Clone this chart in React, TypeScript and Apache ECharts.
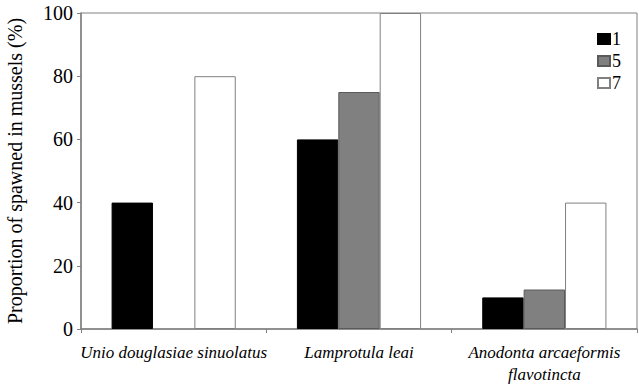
import React, { useEffect, useRef } from "react";
import * as echarts from "echarts";

const categories = ["Unio douglasiae sinuolatus", "Lamprotula leai", "Anodonta arcaeformis\nflavotincta"];
const seriesNames = ["1", "5", "7"];
const values1 = [40, 60, 10];
const values5 = [0, 75, 12.5];
const values7 = [80, 100, 40];
const yTicks = { min: 0, max: 100, interval: 20 };

const FONT = "Liberation Serif";

export default function App() {
  const ref = useRef<HTMLDivElement>(null);
  useEffect(() => {
    if (!ref.current) return;
    const chart = echarts.init(ref.current, undefined, { renderer: "svg" });
    const fills = ["#000000", "#808080", "#ffffff"];
    const borders = ["#000000", "#5a5a5a", "#808080"];
    const data = [values1, values5, values7];
    chart.setOption({
      animation: false,
      textStyle: { fontFamily: FONT },
      grid: {
        left: 81,
        right: 2,
        top: 13,
        bottom: 58,
        outerBoundsMode: "none",
        containLabel: false,
        show: true,
        borderColor: "#808080",
        borderWidth: 1,
      },
      legend: {
        orient: "vertical",
        right: 13,
        top: 25,
        itemWidth: 12,
        itemHeight: 10,
        itemGap: 4,
        icon: "rect",
        data: seriesNames,
        textStyle: { fontFamily: FONT, fontSize: 18, color: "#000", padding: [0, 0, 0, -3] },
      },
      xAxis: {
        type: "category",
        data: categories,
        axisLine: { lineStyle: { color: "#808080", width: 1.5 } },
        axisTick: { show: true, length: 4, lineStyle: { color: "#808080" } },
        axisLabel: {
          interval: 0,
          hideOverlap: false,
          fontFamily: FONT,
          fontStyle: "italic",
          fontSize: 17,
          color: "#000",
          margin: 12,
          lineHeight: 22,
        },
      },
      yAxis: {
        type: "value",
        min: yTicks.min,
        max: yTicks.max,
        interval: yTicks.interval,
        name: "Proportion of spawned in mussels (%)",
        nameLocation: "middle",
        nameGap: 56,
        nameTextStyle: { fontFamily: FONT, fontSize: 20, color: "#000" },
        axisLine: { show: true, lineStyle: { color: "#808080", width: 1.5 } },
        axisTick: { show: true, length: 4, lineStyle: { color: "#808080" } },
        splitLine: { show: false },
        axisLabel: { fontFamily: FONT, fontSize: 20, color: "#000", margin: 8 },
      },
      series: seriesNames.map((n, i) => ({
        name: n,
        type: "bar",
        data: data[i].map((v) => (v === 0 ? { value: v, itemStyle: { borderWidth: 0 } } : v)),
        barGap: "0%",
        barCategoryGap: "33%",
        itemStyle: { color: fills[i], borderColor: borders[i], borderWidth: 1 },
      })),
    });
    return () => chart.dispose();
  }, []);
  return <div ref={ref} style={{ width: 639, height: 387, position: "absolute", left: 0, top: 0 }} />;
}
